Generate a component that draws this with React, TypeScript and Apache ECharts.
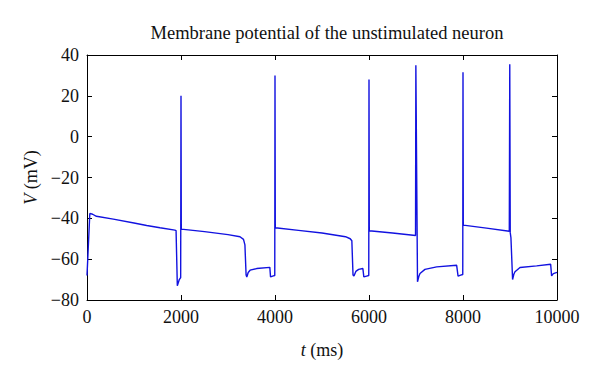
import React, { useEffect, useRef } from "react";
import * as echarts from "echarts";

const TITLE = "Membrane potential of the unstimulated neuron";
const X_TICKS = [0, 2000, 4000, 6000, 8000, 10000];
const Y_TICKS = [-80, -60, -40, -20, 0, 20, 40];

// time (ms)
const timeMs = [
  0, 20, 60, 120, 200, 560, 1000, 1270, 1553, 1870, 1895, 1922, 1964, 1993, 2000, 2006,
  2015, 2500, 3000, 3255, 3330, 3360, 3385, 3400, 3430, 3470, 3610, 3890, 3905, 3965, 3995, 4000, 4006,
  4010, 4500, 5000, 5500, 5600, 5635, 5660, 5680, 5720, 5780, 5870, 5890, 5950, 5995, 6000, 6006,
  6010, 6500, 6990, 6997, 7032, 7060, 7085, 7190, 7440, 7865, 7895, 7950, 7995, 8000, 8006,
  8010, 8500, 8985, 8995, 9005, 9020, 9055, 9080, 9106, 9213, 9567, 9865, 9885, 9922, 10000,
];
// membrane potential (mV)
const voltageMv = [
  -68, -58, -37.6, -38, -39, -40.4, -42.3, -43.5, -44.6, -45.8, -46, -73, -70, -69, 20, -45.3,
  -45.3, -46.5, -48, -49, -50.3, -53, -67.8, -68.7, -66.5, -65.4, -64.6, -64, -68.7, -68.2, -68, 30, -44.6,
  -44.6, -45.9, -47.2, -49, -50, -51, -67.8, -68.3, -66, -65, -64.6, -68.7, -68.3, -68, 28, -46.1,
  -46.1, -47.2, -48.4, 35, -71.1, -68.5, -67, -65, -63.8, -63, -68.3, -67.8, -67.5, 31.5, -43.3,
  -43.3, -44.8, -46.3, 35.5, -47, -49.5, -70, -67.5, -66.2, -64.1, -63.3, -62.5, -68.2, -67.1, -66.5,
];

const FONT = "'Liberation Serif', 'DejaVu Serif', serif";
const TEXT_COLOR = "#111";

export default function App() {
  const ref = useRef<HTMLDivElement>(null);
  useEffect(() => {
    if (!ref.current) return;
    const chart = echarts.init(ref.current, undefined, { renderer: "svg" });
    const data = timeMs.map((t, i) => [t, voltageMv[i]]);
    const fmt = (v: number) => (v < 0 ? "\u2212" + Math.abs(v) : String(v));
    const axisCommon = {
      axisLine: { show: true, onZero: false, lineStyle: { color: "#000", width: 1 } },
      axisTick: { show: true, inside: true, length: 5, lineStyle: { color: "#000" } },
      splitLine: { show: false },
    };
    const nameStyle = {
      fontFamily: FONT,
      fontSize: 18,
      color: TEXT_COLOR,
      rich: {
        i: { fontFamily: FONT, fontSize: 18, fontStyle: "italic", color: TEXT_COLOR },
        n: { fontFamily: FONT, fontSize: 18, color: TEXT_COLOR },
      },
    };
    chart.setOption({
      animation: false,
      backgroundColor: "#fff",
      title: {
        text: TITLE,
        left: 322,
        top: 18,
        textAlign: "center",
        textStyle: { fontFamily: FONT, fontSize: 18.5, fontWeight: "normal", color: TEXT_COLOR },
      },
      grid: { left: 87, right: 43, top: 55, bottom: 76 },
      xAxis: [
        {
          type: "value",
          min: X_TICKS[0],
          max: X_TICKS[X_TICKS.length - 1],
          interval: 2000,
          position: "bottom",
          ...axisCommon,
          axisLabel: { fontFamily: FONT, fontSize: 18, color: TEXT_COLOR, margin: 8, formatter: fmt },
          name: "{i|t}{n| (ms)}",
          nameLocation: "middle",
          nameGap: 41,
          nameTextStyle: nameStyle,
        },
        {
          type: "value",
          min: X_TICKS[0],
          max: X_TICKS[X_TICKS.length - 1],
          interval: 2000,
          position: "top",
          ...axisCommon,
          axisLabel: { show: false },
        },
      ],
      yAxis: [
        {
          type: "value",
          min: Y_TICKS[0],
          max: Y_TICKS[Y_TICKS.length - 1],
          interval: 20,
          position: "left",
          ...axisCommon,
          axisLabel: { fontFamily: FONT, fontSize: 18, color: TEXT_COLOR, margin: 8, formatter: fmt },
          name: "{i|V}{n| (mV)}",
          nameLocation: "middle",
          nameGap: 45,
          nameTextStyle: nameStyle,
        },
        {
          type: "value",
          min: Y_TICKS[0],
          max: Y_TICKS[Y_TICKS.length - 1],
          interval: 20,
          position: "right",
          ...axisCommon,
          axisLabel: { show: false },
        },
      ],
      series: [
        {
          type: "line",
          xAxisIndex: 0,
          yAxisIndex: 0,
          data,
          showSymbol: false,
          symbol: "none",
          lineStyle: { color: "#1212e0", width: 1.4 },
        },
      ],
    });
    return () => chart.dispose();
  }, []);
  return (
    <div
      ref={ref}
      style={{ position: "fixed", left: 0, top: 0, width: 600, height: 376, background: "#fff" }}
    />
  );
}
